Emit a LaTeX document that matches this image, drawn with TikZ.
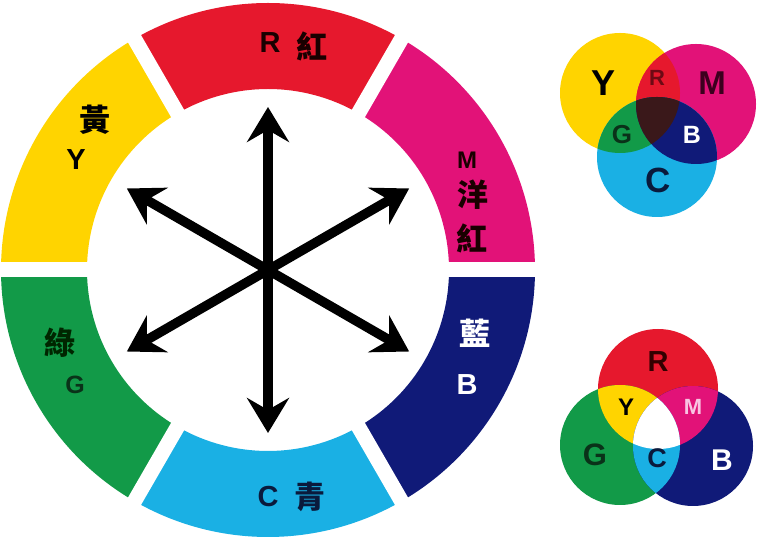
\documentclass[tikz,border=0pt]{standalone}
\usepackage{fontspec}
\setmainfont{Liberation Sans}
\newfontfamily\cjk{Noto Sans CJK TC}
\usetikzlibrary{arrows.meta}
\definecolor{cYel}{RGB}{255,212,0}
\definecolor{cRed}{RGB}{230,24,45}
\definecolor{cMag}{RGB}{226,18,120}
\definecolor{cNav}{RGB}{16,26,120}
\definecolor{cCyn}{RGB}{26,176,228}
\definecolor{cGrn}{RGB}{18,154,72}
\definecolor{cDrk}{RGB}{58,24,26}
\definecolor{tRed}{RGB}{110,10,20}
\definecolor{tMag}{RGB}{60,0,30}
\definecolor{tGrn}{RGB}{10,50,25}
\definecolor{tNav}{RGB}{10,26,60}
\definecolor{tPnk}{RGB}{248,196,226}
\begin{document}
\begin{tikzpicture}[x=1pt,y=1pt,
  lat/.style={font=\bfseries\fontsize{#1}{#1}\selectfont, inner sep=0pt},
  lat/.default=29,
  han/.style={font=\cjk\bfseries\fontsize{31}{31}\selectfont, inner sep=0pt},
  arr/.style={line width=9.5pt, -{Stealth[length=35pt,width=42pt,inset=12pt]}},
  gap/.style={white, line width=15pt}]
\useasboundingbox[fill=white] (0,0) rectangle (758,540);
\coordinate (O) at (268,270);
% ring segments
\foreach \a/\c [evaluate=\a as \s using \a-30, evaluate=\a as \e using \a+30] in
  {30/cMag,90/cRed,150/cYel,210/cGrn,270/cCyn,330/cNav}
  \fill[\c] ([shift={(\s:267pt)}]O) arc[start angle=\s,end angle=\e,radius=267pt]
    -- ([shift={(\e:181pt)}]O) arc[start angle=\e,end angle=\s,radius=181pt] -- cycle;
% gaps between segments
\foreach \a in {0,60,...,300}
  \draw[gap] ([shift={(\a:170pt)}]O) -- ([shift={(\a:282pt)}]O);
% arrows
\foreach \a [count=\i] in {30,90,150,210,270,330}
  \coordinate (t\i) at ([shift={(\a:163pt)}]O);
\foreach \i in {1,...,6}
  \draw[arr] (O) -- (t\i);
% wheel labels
\node[lat, text=black!90!red] (wR) at (270,497) {R};
\node[han, text=black!90!red] (wRh) at (312,494) {紅};
\node[lat=24, text=black!90!red] (wM) at (467,380) {M};
\node[han, text=black!90!red] (wMh1) at (473,345) {洋};
\node[han, text=black!90!red] (wMh2) at (472,302) {紅};
\node[han] (wYh) at (95,420) {黃};
\node[lat] (wY) at (76,380) {Y};
\node[han, text=black!85!green] (wGh) at (60,197) {綠};
\node[lat=25, text=tGrn] (wG) at (75,155) {G};
\node[han, text=white] (wBh) at (475,207) {藍};
\node[lat, text=white] (wB) at (467,155) {B};
\node[lat, text=tNav] (wC) at (268,43) {C};
\node[han, text=tNav] (wCh) at (310,43) {青};
% subtractive Venn (top right)
\coordinate (vY) at (620,447);
\coordinate (vM) at (696,436);
\coordinate (vC) at (657,383);
\fill[cYel] (vY) circle[radius=60pt];
\fill[cMag] (vM) circle[radius=60pt];
\fill[cCyn] (vC) circle[radius=60pt];
\begin{scope}
  \clip (vY) circle[radius=60pt];
  \fill[cRed] (vM) circle[radius=60pt];
  \fill[cGrn] (vC) circle[radius=60pt];
\end{scope}
\begin{scope}
  \clip (vM) circle[radius=60pt];
  \fill[cNav] (vC) circle[radius=60pt];
\end{scope}
\begin{scope}
  \clip (vY) circle[radius=60pt];
  \clip (vM) circle[radius=60pt];
  \fill[cDrk] (vC) circle[radius=60pt];
\end{scope}
\node[lat=36] (sY) at (603,457) {Y};
\node[lat=22, text=tRed] (sR) at (657,462) {R};
\node[lat=33, text=tMag] (sM) at (712,457) {M};
\node[lat=26, text=tGrn] (sG) at (622,405) {G};
\node[lat=25, text=white] (sB) at (692,405) {B};
\node[lat=35, text=tNav] (sC) at (658,360) {C};
% additive Venn (bottom right)
\coordinate (aR) at (658,151);
\coordinate (aG) at (620,95);
\coordinate (aB) at (693,94);
\fill[cRed] (aR) circle[radius=60pt];
\fill[cGrn] (aG) circle[radius=60pt];
\fill[cNav] (aB) circle[radius=60pt];
\begin{scope}
  \clip (aR) circle[radius=60pt];
  \fill[cYel] (aG) circle[radius=60pt];
  \fill[cMag] (aB) circle[radius=60pt];
\end{scope}
\begin{scope}
  \clip (aG) circle[radius=60pt];
  \fill[cCyn] (aB) circle[radius=60pt];
\end{scope}
\begin{scope}
  \clip (aR) circle[radius=60pt];
  \clip (aG) circle[radius=60pt];
  \fill[white] (aB) circle[radius=60pt];
\end{scope}
\node[lat=29, text=black!80!red] (pR) at (658,178) {R};
\node[lat=24] (pY) at (626,133) {Y};
\node[lat=22, text=tPnk] (pM) at (693,133) {M};
\node[lat=31, text=tGrn] (pG) at (595,85) {G};
\node[lat=27, text=tNav] (pC) at (657,82) {C};
\node[lat=30, text=white] (pB) at (722,80) {B};
\end{tikzpicture}
\end{document}
